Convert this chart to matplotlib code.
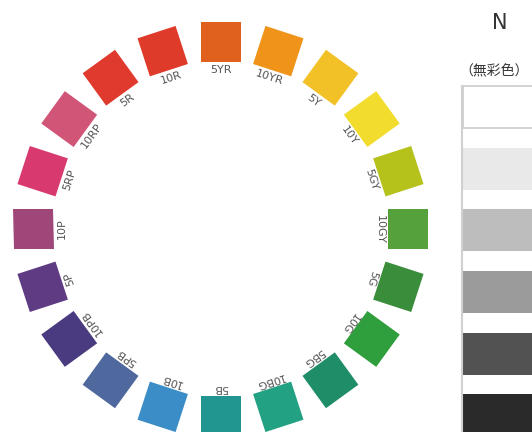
import numpy as np
import matplotlib.pyplot as plt
from matplotlib.patches import Rectangle
from matplotlib.transforms import Affine2D

plt.rcParams['font.family'] = ['Noto Sans CJK JP', 'DejaVu Sans']

# hue circle, clockwise from top
hues = ["5YR", "10YR", "5Y", "10Y", "5GY", "10GY", "5G", "10G", "5BG", "10BG",
        "5B", "10B", "5PB", "10PB", "5P", "10P", "5RP", "10RP", "5R", "10R"]
hue_colors = ["#e0601e", "#ef9418", "#f2c027", "#f2dc2e", "#b6c21c", "#55a23d",
              "#3a8d3b", "#2f9e3c", "#1f8e68", "#22a283", "#219590", "#3a8dc6",
              "#4f699f", "#4a3a80", "#5f3b84", "#a0477a", "#d83a70", "#d05577",
              "#e03a2e", "#df3b2b"]

# neutral column
grays = ["#ffffff", "#e9e9e9", "#bdbdbd", "#9b9b9b", "#525252", "#2a2a2a"]
gray_top = [86, 148, 209, 271, 333, 394]

W, H = 532, 432
fig = plt.figure(figsize=(W / 100, H / 100), dpi=100)
ax = fig.add_axes([0, 0, 1, 1])
ax.set_xlim(0, W)
ax.set_ylim(0, H)
ax.axis("off")

cx, cy = 220.5, H - 229
r_sq, r_txt, side = 187, 159, 40

for i, (name, col) in enumerate(zip(hues, hue_colors)):
    ang = 90 - i * 18
    t = np.radians(ang)
    x = cx + r_sq * np.cos(t)
    y = cy + r_sq * np.sin(t)
    rect = Rectangle((x - side / 2, y - side / 2), side, side, facecolor=col,
                     edgecolor="none")
    rect.set_transform(Affine2D().rotate_deg_around(x, y, ang - 90) + ax.transData)
    ax.add_patch(rect)
    ax.text(cx + r_txt * np.cos(t), cy + r_txt * np.sin(t), name,
            rotation=ang - 90, rotation_mode="anchor", ha="center", va="center",
            fontsize=8, color="#555555", family="DejaVu Sans")

ax.text(500, H - 23, "N", ha="center", va="center", fontsize=15, color="#333333",
        family="DejaVu Sans")
ax.text(494, H - 71, "（無彩色）", ha="center", va="center", fontsize=10,
        color="#333333")

for top, g in zip(gray_top, grays):
    h = 42 if top < 390 else 40
    ax.add_patch(Rectangle((463, H - top - h), 80, h, facecolor=g,
                           edgecolor="#cccccc" if g == "#ffffff" else "none",
                           lw=1.2))
ax.plot([461.5, 461.5], [0, H - 86], color="#d0d0d0", lw=1.5)

fig.savefig("out.png", dpi=100)
